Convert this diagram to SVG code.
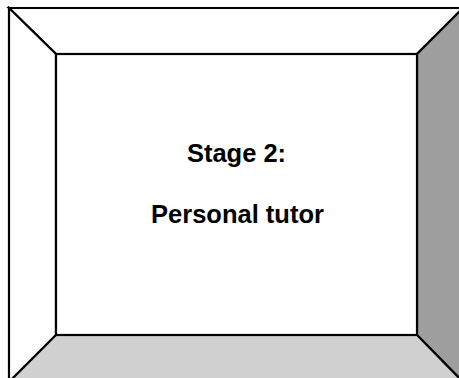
<svg xmlns="http://www.w3.org/2000/svg" width="459" height="378" viewBox="0 0 459 378">
<style>
.e{stroke:#000;stroke-width:2.2;stroke-linejoin:miter}
.t{font-family:"Liberation Sans",Arial,sans-serif;font-weight:bold;font-size:25.5px;fill:#000;text-anchor:middle}
</style>
<rect width="459" height="378" fill="#fff"/>
<g id="frame">
<polygon class="e" points="9,8 463,8 417,54 56,54" fill="#fff"/>
<polygon class="e" points="9,8 56,54 56,335 9,382" fill="#fff"/>
<polygon class="e" points="463,8 463,382 417,335 417,54" fill="#9e9e9e"/>
<polygon class="e" points="9,382 56,335 417,335 463,382" fill="#d0d0d0"/>
<rect class="e" x="56" y="54" width="361" height="281" fill="#fff"/>
</g>
<g id="label">
<text class="t" x="236.5" y="162">Stage 2:</text>
<text class="t" x="237.5" y="223">Personal tutor</text>
</g>
</svg>
